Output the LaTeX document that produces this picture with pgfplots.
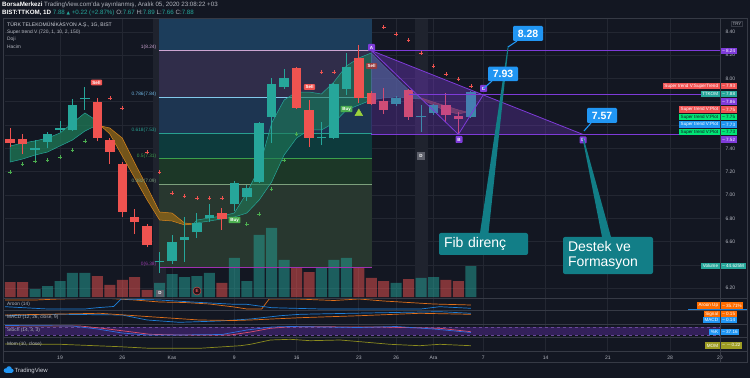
\documentclass[border=0pt]{standalone}
\usepackage{pgfplots}
\pgfplotsset{compat=1.18}
\usepackage{pgfplotstable}
\usepackage{fontspec}
\setmainfont{Liberation Sans}
\newfontfamily\dejavu{DejaVu Sans}
\newcommand{\fs}[1]{\fontsize{#1}{#1}\selectfont}
\definecolor{bg}{HTML}{131722}
\definecolor{gridc}{HTML}{232732}
\definecolor{borderc}{HTML}{363A45}
\definecolor{txt}{HTML}{B2B5BE}
\definecolor{txtw}{HTML}{D1D4DC}
\definecolor{up}{HTML}{26A69A}
\definecolor{dn}{HTML}{EF5350}
\definecolor{pur}{HTML}{7E3BD9}
\definecolor{callblue}{HTML}{2196F3}
\definecolor{callteal}{HTML}{127E87}
\definecolor{fibtop}{HTML}{1C3D5B}
\definecolor{fibA}{HTML}{302D4A}
\definecolor{fibB}{HTML}{1D3551}
\definecolor{fibC}{HTML}{0D3A3C}
\definecolor{fibD}{HTML}{1C3727}
\definecolor{fibE}{HTML}{28372F}
\definecolor{strip}{HTML}{1F232E}
\definecolor{stg}{HTML}{1E7A57}
\definecolor{sto}{HTML}{8C6418}
\definecolor{stol}{HTML}{D9861C}
\definecolor{stb}{HTML}{3E6F7F}
\definecolor{str}{HTML}{8A4A3C}
\definecolor{aro}{HTML}{E0701A}
\definecolor{arb}{HTML}{1E7FD8}
\definecolor{stochc}{HTML}{33205A}
\definecolor{stochl}{HTML}{6A4A9A}
\definecolor{momc}{HTML}{8C8C1E}
\definecolor{boxred}{HTML}{F05252}
\definecolor{boxgreen}{HTML}{00E676}
\definecolor{boxorange}{HTML}{FF6D00}
\definecolor{boxolive}{HTML}{9E9D24}
\definecolor{buyc}{HTML}{4CAF50}
\definecolor{tri}{HTML}{9BD23C}

\pgfplotstableread{
i l wh b bh
-2 7.30 0.17 7.39 0.012
-1 7.40 0.14 7.455 0.065
0 7.54 0.095 7.56 0.012
1 7.55 0.27 7.56 0.21
2 7.73 0.20 7.82 0.012
8 6.33 0.18 6.425 0.012
9 6.41 0.25 6.43 0.17
10 6.425 0.385 6.61 0.03
11 6.63 0.215 6.68 0.08
12 6.77 0.15 6.80 0.03
14 6.86 0.26 6.92 0.18
15 6.95 0.14 6.98 0.08
16 7.10 0.53 7.11 0.51
17 7.45 0.55 7.67 0.28
18 7.91 0.17 7.93 0.07
21 7.43 0.20 7.49 0.012
22 7.48 0.48 7.49 0.46
23 7.86 0.36 7.91 0.19
27 7.76 0.09 7.781 0.052
29 7.541 0.232 7.670 0.012
30 7.69 0.09 7.704 0.069
33 7.66 0.23 7.67 0.21
}\upt
\pgfplotstableread{
i l wh b bh
-4 7.41 0.165 7.45 0.03
-3 7.35 0.17 7.44 0.04
3 7.46 0.37 7.49 0.31
4 7.27 0.22 7.37 0.10
5 6.81 0.47 6.855 0.415
6 6.665 0.215 6.77 0.04
7 6.55 0.20 6.57 0.16
13 6.70 0.19 6.795 0.05
19 7.74 0.36 7.75 0.34
20 7.41 0.405 7.49 0.24
24 7.79 0.50 7.83 0.35
25 7.77 0.12 7.781 0.095
26 7.695 0.223 7.730 0.077
28 7.644 0.266 7.670 0.231
31 7.627 0.249 7.690 0.083
32 7.515 0.197 7.652 0.026
}\dnt

\pgfplotsset{base/.style={at={(5pt,81pt)}, anchor=south west, scale only axis,
  width=715pt, height=279pt, xmin=-4.418, xmax=53.012}}

\newcommand{\rbox}[5]{%
 \node[fill=#4, text=#5, anchor=east, inner xsep=1.5pt, inner ysep=0pt, minimum height=6.6pt, font=\fs{4.6}] at (719.8pt,#1pt) {#2};
 \node[fill=#4, text=#5, anchor=west, inner xsep=1.5pt, inner ysep=0pt, minimum height=6.6pt, font=\fs{4.6}] at (720.6pt,#1pt) {-- #3};}
\newcommand{\valbox}[3]{%
 \node[fill=#3, text=white, anchor=west, inner xsep=1.5pt, inner ysep=0pt, minimum height=6.6pt, font=\fs{4.6}] at (720.6pt,#1pt) {-- #2};}
\newcommand{\sigtag}[4]{\node[fill=#3, text=white, rounded corners=0.8pt, inner xsep=1.6pt, inner ysep=1.2pt, font=\fs{4.5}\bfseries] at (#1pt,#2pt) {#4};}
\newcommand{\plab}[3]{\node[fill=pur, text=white, rounded corners=0.8pt, inner sep=0.5pt, minimum size=7pt, font=\fs{4.5}\bfseries] at (#1pt,#2pt) {#3};}

\begin{document}
\begin{tikzpicture}
\path[use as bounding box, fill=bg] (0,0) rectangle (750pt,378pt);

% ---------- Axis A: background, grid, fib fills, price ticks
\begin{axis}[base, ymin=6.1244, ymax=8.5193,
  axis line style={draw=none}, major tick length=0pt,
  xtick={0,5,9,14,19,24,27,30,34,39,44,49,53}, xticklabels={},
  ytick={6.2,6.4,6.6,6.8,7.0,7.2,7.4,7.6,7.8,8.0,8.2,8.4},
  yticklabels={6.20,{},6.60,6.80,7.00,7.20,7.40,{},{},8.00,8.20,8.40},
  yticklabel pos=right,
  yticklabel style={font=\fs{5}, text=txt, xshift=2pt},
  grid=major, grid style={gridc, line width=0.7pt}]
\addplot[draw=none, fill=strip] coordinates {(7.47,6.1244) (8.5,6.1244) (8.5,8.5193) (7.47,8.5193)} -- cycle;
\addplot[draw=none, fill=strip] coordinates {(28.5,6.1244) (29.55,6.1244) (29.55,8.5193) (28.5,8.5193)} -- cycle;
\addplot[draw=none, fill=fibtop] coordinates {(7.95,8.24) (25.05,8.24) (25.05,8.5193) (7.95,8.5193)} -- cycle;
\addplot[draw=none, fill=fibA] coordinates {(7.95,7.84) (25.05,7.84) (25.05,8.24) (7.95,8.24)} -- cycle;
\addplot[draw=none, fill=fibB] coordinates {(7.95,7.53) (25.05,7.53) (25.05,7.84) (7.95,7.84)} -- cycle;
\addplot[draw=none, fill=fibC] coordinates {(7.95,7.31) (25.05,7.31) (25.05,7.53) (7.95,7.53)} -- cycle;
\addplot[draw=none, fill=fibD] coordinates {(7.95,7.09) (25.05,7.09) (25.05,7.31) (7.95,7.31)} -- cycle;
\addplot[draw=none, fill=fibE] coordinates {(7.95,6.38) (25.05,6.38) (25.05,7.09) (7.95,7.09)} -- cycle;
\end{axis}

% ---------- Axis B: volume
\begin{axis}[base, ymin=0, ymax=401.76, hide axis, ybar, bar width=11pt]
\addplot[fill=up, fill opacity=0.5, draw=none, bar shift=0pt] coordinates {
(-2,11.5) (-1,15.8) (0,23.0) (1,34.6) (2,34.6) (8,20.2) (9,33.1) (10,28.8) (11,30.2) (12,34.6)
(14,56.2) (15,23.0) (16,89.3) (17,99.4) (18,53.3) (21,41.8) (22,53.3) (23,56.2) (27,20.2)
(29,27.4) (30,28.8) (33,44.6)};
\addplot[fill=dn, fill opacity=0.5, draw=none, bar shift=0pt] coordinates {
(-4,21.6) (-3,21.6) (3,30.2) (4,17.3) (5,24.5) (6,28.8) (7,10.1) (13,20.2) (19,41.8) (20,36.0)
(24,41.8) (25,27.4) (26,23.0) (28,25.9) (31,24.5) (32,23.0)};
\end{axis}

% ---------- Axis C: price content
\begin{axis}[base, ymin=6.1244, ymax=8.5193, hide axis]
% fib lines
\addplot[color={rgb,255:red,205;green,165;blue,210}, line width=0.8pt] coordinates {(7.95,8.24) (25.05,8.24)};
\addplot[color={rgb,255:red,130;green,200;blue,235}, line width=0.8pt] coordinates {(7.95,7.84) (25.05,7.84)};
\addplot[color={rgb,255:red,40;green,160;blue,145}, line width=0.8pt] coordinates {(7.95,7.53) (25.05,7.53)};
\addplot[color={rgb,255:red,60;green,160;blue,75}, line width=0.8pt] coordinates {(7.95,7.31) (25.05,7.31)};
\addplot[color={rgb,255:red,125;green,160;blue,125}, line width=0.8pt] coordinates {(7.95,7.09) (25.05,7.09)};
\addplot[color={rgb,255:red,160;green,48;blue,176}, line width=0.8pt] coordinates {(7.95,6.38) (25.05,6.38)};
% supertrend band
\addplot[fill=stg, fill opacity=0.75, draw=up, line width=0.5pt] coordinates {
(-4,7.421) (-3,7.446) (-2,7.464) (-1,7.489) (0,7.532) (1,7.618) (2,7.704) (3,7.635) (3.3,7.592)
(3,7.601) (2,7.549) (1,7.472) (0,7.421) (-1,7.369) (-2,7.343) (-3,7.309) (-4,7.283)} -- cycle;
\addplot[fill=sto, fill opacity=0.8, draw=stol, line width=0.5pt] coordinates {
(3.3,7.592) (4,7.575) (5,7.489) (6,7.275) (7,7.069) (8,6.854) (9,6.845) (10,6.760) (10.7,6.751)
(10,6.743) (9,6.777) (8,6.785) (7,6.957) (6,7.146) (5,7.335) (4,7.524)} -- cycle;
\addplot[fill=stg, fill opacity=0.6, draw=up, line width=0.5pt] coordinates {
(10.7,6.751) (11,6.785) (12,6.803) (13,6.820) (14,6.845) (15,7.017) (16,7.232) (17,7.618) (18,7.815)
(19,7.884) (20,7.884) (21,7.867) (22,7.970) (23,8.107) (24,8.176) (25,8.219)
(25,7.815) (24,7.772) (23,7.730) (22,7.618) (21,7.558) (20,7.558) (19,7.489) (18,7.343) (17,7.112)
(16,6.957) (15,6.845) (14,6.811) (13,6.794) (12,6.777) (11,6.760)} -- cycle;
\addplot[fill=stb, fill opacity=0.7, draw=stb, line width=0.5pt] coordinates {
(25,8.219) (26,8.107) (27,8.004) (28,7.901) (29,7.833) (29,7.824) (28,7.833) (27,7.841) (26,7.833) (25,7.815)} -- cycle;
\addplot[fill=str, fill opacity=0.7, draw=str, line width=0.5pt] coordinates {
(29,7.833) (30,7.798) (31,7.764) (32,7.730) (32.7,7.712) (32,7.695) (31,7.721) (30,7.772) (29,7.824)} -- cycle;
% candles: wicks and bodies
\addplot[draw=none, mark=none, error bars/.cd, y dir=plus, y explicit, error mark=none,
  error bar style={draw=up, line width=1pt}] table[x=i, y=l, y error plus=wh] {\upt};
\addplot[draw=none, mark=none, error bars/.cd, y dir=plus, y explicit, error mark=none,
  error bar style={draw=dn, line width=1pt}] table[x=i, y=l, y error plus=wh] {\dnt};
\addplot[draw=none, mark=none, error bars/.cd, y dir=plus, y explicit, error mark=none,
  error bar style={draw=up, line width=9.5pt}] table[x=i, y=b, y error plus=bh] {\upt};
\addplot[draw=none, mark=none, error bars/.cd, y dir=plus, y explicit, error mark=none,
  error bar style={draw=dn, line width=9.5pt}] table[x=i, y=b, y error plus=bh] {\dnt};
% supertrend stop dots
\addplot[only marks, mark=+, mark size=1.8pt, dn, line width=0.6pt] coordinates {
(4,7.833) (5,7.747) (7,7.369) (8,7.197) (9,7.017) (10,6.991) (11,6.974) (12,6.974) (13,6.974)
(21,8.056) (22,8.056) (26,8.442) (27,8.382) (28,8.330) (29,8.219) (30,8.107) (31,8.039) (32,7.996) (33,7.936)};
\addplot[only marks, mark=+, mark size=1.8pt, buyc, line width=0.6pt] coordinates {
(-4,7.197) (-3,7.266) (-2,7.292) (-1,7.300) (0,7.326) (1,7.386) (2,7.464)
(15,6.751) (16,6.837) (17,7.051) (18,7.300) (19,7.524)};
\addplot[only marks, mark=triangle*, mark size=4.5pt, tri] coordinates {(24,7.70)};
% ABCD pattern
\addplot[draw=none, fill=pur, fill opacity=0.28] coordinates {(25,8.24) (25,7.52) (42,7.52)} -- cycle;
\addplot[draw=none, fill=pur, fill opacity=0.12] coordinates {(25,8.24) (32,7.52) (34,7.86)} -- cycle;
\addplot[pur, line width=0.8pt] coordinates {(25,8.24) (32,7.52) (34,7.86)};
\addplot[pur, line width=0.8pt] coordinates {(25,8.24) (42,7.52)};
\addplot[pur, line width=1.1pt] coordinates {(25,8.24) (53.1,8.24)};
\addplot[pur, line width=1.1pt] coordinates {(25,7.52) (53.1,7.52)};
\addplot[pur, line width=1.1pt] coordinates {(28,7.86) (53.1,7.86)};
\end{axis}

% ---------- Axis D: indicators
\begin{axis}[at={(5pt,27pt)}, anchor=south west, scale only axis, width=715pt, height=54pt,
  xmin=-4.418, xmax=53.012, ymin=27, ymax=81,
  axis line style={draw=none}, major tick length=0pt,
  xtick={0,5,9,14,19,24,27,30,34,39,44,49,53},
  xticklabels={19,26,Kas,9,16,23,26,Ara,7,14,21,28,20},
  xticklabel style={font=\fs{5}, text=txt, yshift=-1.2pt},
  ytick=\empty, xmajorgrids, grid style={gridc, line width=0.7pt}]
\addplot[draw=none, fill=stochc] coordinates {(-4.418,43) (53.012,43) (53.012,51) (-4.418,51)} -- cycle;
\addplot[stochl, dashed, line width=0.5pt] coordinates {(-4.418,51) (53.012,51)};
\addplot[stochl, dashed, line width=0.5pt] coordinates {(-4.418,43) (53.012,43)};
% Aroon
\addplot[aro, line width=0.7pt] coordinates {(-4.4,78) (-2,78) (0,79) (2,79.5) (4,79.5) (6,78) (8,76) (10,75.5) (12,74) (14,71) (15,69) (16.2,69) (16.8,79) (19,79) (21,78) (22,77.5) (24,79) (26,77) (28,75.5) (30,74) (33,73)};
\addplot[arb, line width=0.7pt] coordinates {(-4.4,71.3) (-1,69) (2,69) (3,70.3) (4.3,71.5) (4.9,79) (8,78) (11,75.7) (14,73.7) (15,73.7) (17,70.3) (21,69) (29,69) (30.5,71.3) (33,69.7)};
% MACD
\addplot[arb, line width=0.7pt] coordinates {(-4.4,62.3) (0,63.7) (5,63) (7,58) (9.6,55.7) (12.8,57) (15.3,59) (17.7,62.3) (19.3,63.7) (23.3,64.7) (30.5,66.3) (33,64.7)};
\addplot[aro, line width=0.7pt] coordinates {(-4.4,63) (3.2,64.7) (7.2,61.3) (11.2,58) (14,57.5) (15.3,58) (19.3,60.3) (24.1,62.3) (28.9,64.7) (33,63.7)};
% Stoch
\addplot[color={rgb,255:red,224;green,80;blue,106}, line width=0.7pt] coordinates {(-4.4,52) (1.6,52) (3.2,50) (5.6,46.3) (7.2,43.7) (9.6,43) (13.7,43) (15.3,46) (16.9,49.7) (18.5,51.3) (25.7,51) (30.5,49.7) (33,46.3)};
\addplot[color={rgb,255:red,47;green,111;blue,224}, line width=0.7pt] coordinates {(-4.4,52.5) (1,52) (3,49) (5,45) (7,43) (9.6,43) (13,43.5) (15,48) (17,51) (18.5,51.5) (24,50.5) (27,51.5) (30,49) (33,45.5)};
% Momentum
\addplot[momc, line width=0.7pt] coordinates {(-4.4,34) (0,33.7) (4.8,31.3) (7.2,29.7) (11.2,29.7) (14.5,32.3) (15.3,33.7) (16.9,38) (18.5,38.7) (20.1,37.3) (22.5,38) (24.1,36.3) (26.5,33.7) (28.9,32.3) (30.5,33.7) (33,32.3)};
\end{axis}

% ---------- frame and separators
\draw[borderc, line width=0.8pt] (3pt,16pt) rectangle (747pt,360pt);
\draw[borderc, line width=0.8pt] (720pt,16pt) -- (720pt,360pt);
\foreach \yy in {80,68,54,41,27} \draw[borderc, line width=0.8pt] (3pt,\yy pt) -- (747pt,\yy pt);

% ---------- header
\node[anchor=west, inner sep=0pt, font=\fs{6.2}, text=txt] at (2pt,373pt) {\textcolor{white}{\bfseries BorsaMerkezi} TradingView.com'da yayınlanmış, Aralık 05, 2020 23:08:22 +03};
\node[anchor=west, inner sep=0pt, font=\fs{6.2}, text=txt] at (2pt,365.5pt) {\textcolor{white}{\bfseries BIST:TTKOM, 1D}\ \textcolor{up}{7.88 {\dejavu\fs{4.5}▲} +0.22 (+2.87\%)}\ O:\textcolor{up}{7.67} H:\textcolor{up}{7.89} L:\textcolor{up}{7.66} C:\textcolor{up}{7.88}};
\node[anchor=west, inner sep=0pt, font=\fs{5.1}, text=txtw] at (7pt,353pt) {TÜRK TELEKOMÜNİKASYON A.Ş., 1G, BIST};
\node[anchor=west, inner sep=0pt, font=\fs{4.9}, text=txt] at (7pt,345.5pt) {Super trend V (720, 1, 10, 2, 150)};
\node[anchor=west, inner sep=0pt, font=\fs{4.9}, text=txt] at (7pt,338.5pt) {Doji};
\node[anchor=west, inner sep=0pt, font=\fs{4.9}, text=txt] at (7pt,331pt) {Hacim};
\node[draw=borderc, text=txt, inner sep=1pt, font=\fs{4.5}] at (737pt,354.5pt) {TRY};

% indicator names
\node[anchor=west, inner sep=0pt, font=\fs{4.8}, text=txt] at (7pt,74pt) {Aroon (14)};
\node[anchor=west, inner sep=0pt, font=\fs{4.8}, text=txt] at (7pt,61pt) {MACD (12, 26, close, 9)};
\node[anchor=west, inner sep=0pt, font=\fs{4.8}, text=txt] at (7pt,47.5pt) {Stoch (14, 3, 3)};
\node[anchor=west, inner sep=0pt, font=\fs{4.8}, text=txt] at (7pt,34pt) {Mom (10, close)};

% fib labels
\node[anchor=south east, inner sep=0.6pt, font=\fs{4.8}, text={rgb,255:red,205;green,165;blue,210}] at (157pt,327.6pt) {1(8.24)};
\node[anchor=south east, inner sep=0.6pt, font=\fs{4.8}, text={rgb,255:red,110;green,180;blue,225}] at (157pt,280.9pt) {0.786(7.84)};
\node[anchor=south east, inner sep=0.6pt, font=\fs{4.8}, text={rgb,255:red,40;green,160;blue,145}] at (157pt,244.7pt) {0.618(7.53)};
\node[anchor=south east, inner sep=0.6pt, font=\fs{4.8}, text={rgb,255:red,60;green,160;blue,75}] at (157pt,219.1pt) {0.5(7.31)};
\node[anchor=south east, inner sep=0.6pt, font=\fs{4.8}, text={rgb,255:red,125;green,160;blue,125}] at (157pt,193.5pt) {0.382(7.09)};
\node[anchor=south east, inner sep=0.6pt, font=\fs{4.8}, text={rgb,255:red,150;green,60;blue,170}] at (157pt,110.8pt) {0(6.38)};

% signals
\sigtag{96.5}{295.5}{dn}{Sell}
\sigtag{309.5}{291}{dn}{Sell}
\sigtag{371.5}{312}{dn!60!bg}{Sell}
\sigtag{234.5}{158}{buyc}{Buy}
\sigtag{346.5}{269}{buyc}{Buy}
\node[fill={rgb,255:red,93;green,96;blue,107}, text=white, inner sep=0.8pt, minimum width=8pt, minimum height=8pt, font=\fs{4.5}\bfseries] at (421pt,222pt) {D};
\node[fill={rgb,255:red,93;green,96;blue,107}, text=white, inner sep=0.8pt, minimum width=8pt, minimum height=7pt, font=\fs{4.5}\bfseries] at (160pt,85pt) {D};
\node[circle, fill={rgb,255:red,40;green,20;blue,26}, draw=dn, text=dn, inner sep=0.6pt, minimum size=8pt, font=\fs{4.5}\bfseries] at (197pt,87pt) {E};

% pattern letters
\plab{371.5}{330.5}{A}
\plab{459}{238.5}{B}
\plab{483.5}{289.5}{C}
\plab{583}{238}{D}

% callout pointers
\fill[callteal] (480pt,145pt) -- (488.5pt,145pt) -- (508.6pt,332pt) -- (507.8pt,332pt) -- cycle;
\fill[callteal] (582.5pt,240pt) -- (583.6pt,240pt) -- (611pt,141pt) -- (602pt,141pt) -- cycle;
\draw[callblue, line width=1.1pt] (517pt,337pt) -- (508pt,331pt);
\draw[callblue, line width=1.1pt] (492pt,297pt) -- (483.5pt,289.5pt);
\draw[callblue, line width=1.1pt] (591pt,255pt) -- (584pt,247pt);
% callouts
\node[fill=callblue, text=white, rounded corners=1.2pt, minimum width=30pt, minimum height=15pt, inner sep=1pt, font=\fs{10.5}\bfseries] at (528pt,344.5pt) {8.28};
\node[fill=callblue, text=white, rounded corners=1.2pt, minimum width=30pt, minimum height=14.5pt, inner sep=1pt, font=\fs{10.5}\bfseries] at (503pt,304pt) {7.93};
\node[fill=callblue, text=white, rounded corners=1.2pt, minimum width=30pt, minimum height=15pt, inner sep=1pt, font=\fs{10.5}\bfseries] at (602pt,262.5pt) {7.57};
\node[fill=callteal, text=white, rounded corners=2pt, text width=79pt, inner xsep=5pt, minimum height=22pt, align=left, font=\fs{14}] at (483.5pt,134pt) {Fib direnç};
\node[fill=callteal, text=white, rounded corners=2pt, text width=80pt, inner xsep=5pt, inner ysep=2.5pt, minimum height=37pt, align=left, font=\fontsize{14}{14.5}\selectfont] at (608pt,122.5pt) {Destek ve\\Formasyon};

% right price boxes
\valbox{327}{8.24}{pur}
\rbox{292}{Super trend V:SuperTrend}{7.93}{boxred}{white}
\rbox{284}{TTKOM}{7.88}{up}{white}
\valbox{276.5}{7.86}{pur}
\rbox{268.5}{Super trend V:Plot}{7.75}{boxred}{white}
\rbox{261}{Super trend V:Plot}{7.75}{boxgreen}{bg}
\rbox{253.5}{Super trend V:Plot}{7.73}{callblue}{white}
\rbox{246}{Super trend V:Plot}{7.73}{boxgreen}{bg}
\valbox{238.5}{7.52}{pur}
\rbox{112}{Volume}{44.625M}{up}{white}
\draw[arb, line width=1pt] (688pt,68.5pt) -- (747pt,68.5pt);
\rbox{72.5}{Aroon Up}{35.71\%}{boxorange}{white}
\rbox{64}{Signal}{0.15}{boxorange}{white}
\rbox{58}{MACD}{0.14}{callblue}{white}
\rbox{46}{\%K}{37.16}{callblue}{white}
\rbox{32.5}{MOM}{$-$0.22}{boxolive}{white}

% logo
\fill[callblue] (6pt,7.5pt) circle (2.3pt);
\fill[callblue] (9pt,9pt) circle (2.8pt);
\fill[callblue] (11.6pt,7.3pt) circle (2pt);
\fill[callblue] (6pt,5.2pt) rectangle (11.6pt,7.5pt);
\node[anchor=west, inner sep=0pt, font=\fs{6}, text=txtw] at (14.5pt,7.5pt) {TradingView};
\end{tikzpicture}
\end{document}
